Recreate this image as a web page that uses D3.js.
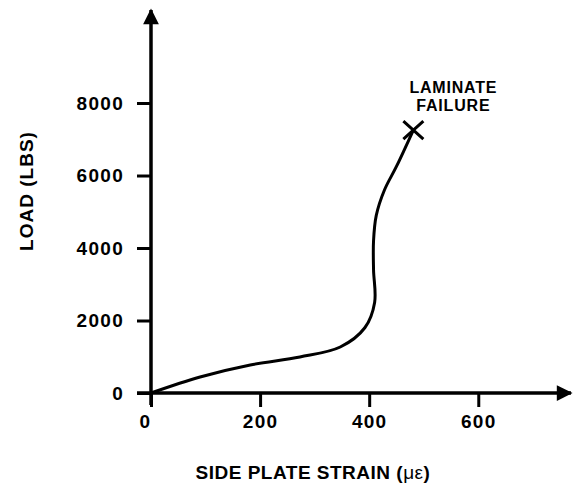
<!DOCTYPE html>
<html>
<head>
<meta charset="utf-8">
<script src="https://cdn.jsdelivr.net/npm/d3@7"></script>
<style>
  body { margin: 0; background: #fff; }
  text { font-family: "Liberation Sans", Arial, sans-serif; font-weight: bold; fill: #000; }
</style>
</head>
<body>
<div id="container"></div>
<script>
// strain (micro-strain) vs load (lbs)
const strain = [0, 90, 182, 273, 347, 392, 410, 408, 408, 413, 428, 450, 481];
const load = [0, 441, 772, 993, 1269, 1800, 2500, 3400, 4200, 4900, 5600, 6250, 7255];
const xTicks = [0, 200, 400, 600];
const yTicks = [0, 2000, 4000, 6000, 8000];
const failure = {strain: 481, load: 7255, label: ['LAMINATE', 'FAILURE']};

const width = 575, height = 492;
const svg = d3.select('#container').append('svg')
  .attr('width', width).attr('height', height);

// origin sits at (151, 393)
let xScale = d3.scaleLinear().domain([0, 770]).range([151, 571]);
let yScale = d3.scaleLinear().domain([0, 10566]).range([393, 10]);

svg.append('defs').append('marker')
  .attr('id', 'arrow')
  .attr('viewBox', '0 0 10 10')
  .attr('refX', 9).attr('refY', 5)
  .attr('markerWidth', 5).attr('markerHeight', 4.5)
  .attr('markerUnits', 'strokeWidth')
  .attr('orient', 'auto')
  .append('path').attr('d', 'M0,0 L10,5 L0,10 Z').attr('fill', '#000');

// axes
let xAxis = d3.axisBottom(xScale).tickValues(xTicks).tickFormat(d3.format('d'))
  .tickSizeInner(14).tickSizeOuter(0).tickPadding(8);
let gx = svg.append('g').attr('transform', `translate(0,${yScale(0)})`).call(xAxis);
gx.select('.domain').remove();
gx.selectAll('.tick line').attr('stroke', '#000').attr('stroke-width', 3);
gx.selectAll('.tick text')
  .style('font-size', '19px').style('letter-spacing', '1.3px')
  .attr('dx', d => d == 0 ? -6 : 0);

let yAxis = d3.axisLeft(yScale).tickValues(yTicks).tickFormat(d3.format('d'))
  .tickSizeInner(14).tickSizeOuter(0).tickPadding(13);
let gy = svg.append('g').attr('transform', `translate(${xScale(0)},0)`).call(yAxis);
gy.select('.domain').remove();
gy.selectAll('.tick line').attr('stroke', '#000').attr('stroke-width', 3);
gy.selectAll('.tick text')
  .style('font-size', '19px').style('letter-spacing', '1.3px');

svg.append('line')
  .attr('x1', xScale(0) - 14).attr('y1', yScale(0))
  .attr('x2', xScale(770)).attr('y2', yScale(0))
  .attr('stroke', '#000').attr('stroke-width', 3.5)
  .attr('marker-end', 'url(#arrow)');
svg.append('line')
  .attr('x1', xScale(0)).attr('y1', yScale(0) + 12)
  .attr('x2', xScale(0)).attr('y2', yScale(10566))
  .attr('stroke', '#000').attr('stroke-width', 3.5)
  .attr('marker-end', 'url(#arrow)');

// curve
const lineGenerator = d3.line()
  .x((d, i) => xScale(strain[i]))
  .y((d, i) => yScale(load[i]))
  .curve(d3.curveCatmullRom.alpha(0.5));

svg.append('path')
  .attr('d', lineGenerator(strain))
  .attr('fill', 'none')
  .attr('stroke', '#000')
  .attr('stroke-width', 3);

// failure marker
let fx = xScale(failure.strain), fy = yScale(failure.load);
svg.append('path')
  .attr('d', `M${fx - 10},${fy - 9}L${fx + 10},${fy + 9}M${fx - 10},${fy + 9}L${fx + 10},${fy - 9}`)
  .attr('stroke', '#000').attr('stroke-width', 3);

svg.append('text')
  .attr('x', fx + 40).attr('y', fy - 37)
  .attr('text-anchor', 'middle')
  .style('font-size', '16px').style('letter-spacing', '0.8px')
  .selectAll('tspan').data(failure.label).enter()
  .append('tspan')
  .attr('x', fx + 40)
  .attr('dy', (d, i) => i == 0 ? 0 : 18)
  .text(d => d);

// axis titles
svg.append('text')
  .attr('transform', 'translate(33,191) rotate(-90)')
  .attr('text-anchor', 'middle')
  .style('font-size', '19px').style('letter-spacing', '1px')
  .text('LOAD (LBS)');

let xt = svg.append('text')
  .attr('x', 313).attr('y', 479)
  .attr('text-anchor', 'middle')
  .style('font-size', '19px').style('letter-spacing', '0.5px');
xt.append('tspan').text('SIDE PLATE STRAIN (');
xt.append('tspan').style('font-weight', 'normal').text('με');
xt.append('tspan').text(')');
</script>
</body>
</html>
